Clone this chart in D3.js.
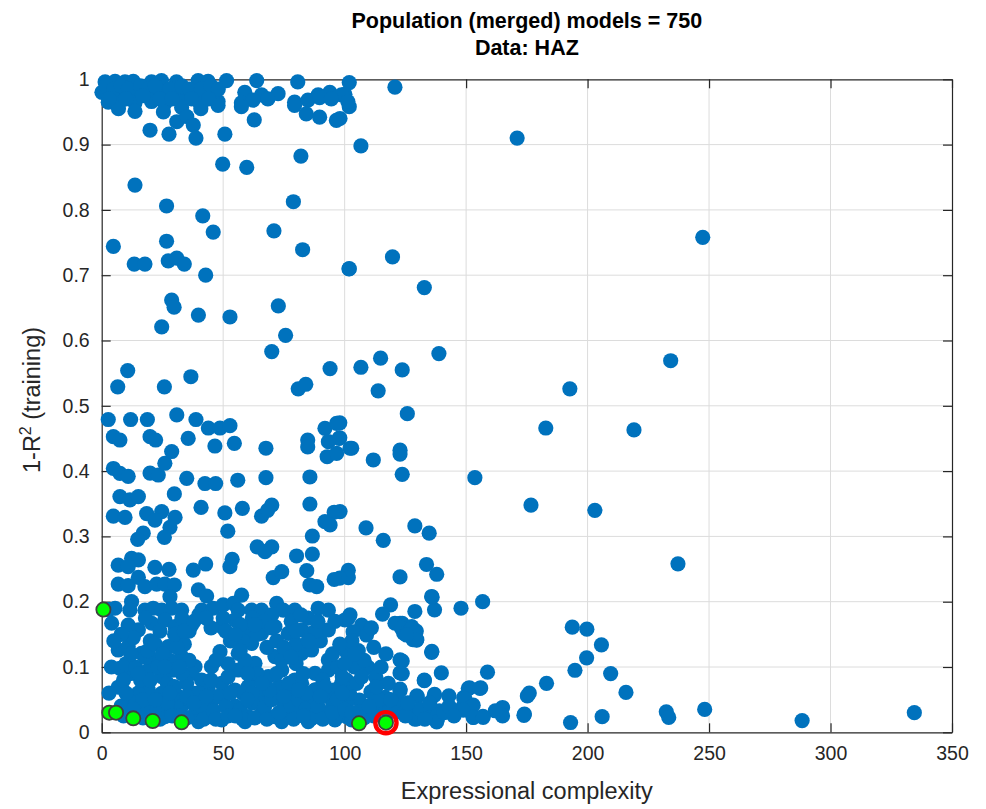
<!DOCTYPE html>
<html>
<head>
    <meta charset="utf-8">
    <title>Population (merged) models</title>
    <script src="https://d3js.org/d3.v7.min.js"></script>
    <style>
        body { margin: 0; background: #fff; }
        text { font-family: "Liberation Sans", Arial, Helvetica, sans-serif; }
    </style>
</head>
<body>
    <div id="my_dataviz"></div>
    <script>
        const titleLines = ["Population (merged) models = 750", "Data: HAZ"];
        const xLabel = "Expressional complexity";
        const xTicks = [0, 50, 100, 150, 200, 250, 300, 350];
        const yTicks = [0, 0.1, 0.2, 0.3, 0.4, 0.5, 0.6, 0.7, 0.8, 0.9, 1];

        // [complexity, 1-R^2]
        const sparseModels = [
            [171,0.91],[247.4,0.758],[234.2,0.569],[192.7,0.526],[182.8,0.466],[219.1,0.463],[138.8,0.58],
            [132.8,0.681],[119.7,0.728],[153.6,0.39],[176.7,0.348],[203,0.34],[237.2,0.258],[156.8,0.2],
            [147.9,0.19],[193.7,0.161],[199.7,0.158],[205.7,0.134],[199.6,0.114],[194.8,0.095],[209.5,0.09],
            [215.8,0.061],[183.1,0.075],[175.2,0.0557],[176,0.06],[158.8,0.092],[248.2,0.035],[232.4,0.0314],
            [233.4,0.0228],[206,0.024],[193,0.015],[288.3,0.018],[334.5,0.03],[174,0.028],[165,0.038],
            [165,0.025],[162,0.033],[156.9,0.0243],[152.9,0.0228],[152.9,0.0415],[148.5,0.038],[149,0.053],
            [151.4,0.068],[156,0.068],[142.9,0.0557],[137,0.058],[139.8,0.091],[135.9,0.124],[132.8,0.08],
            [129.7,0.0557],[122.8,0.066],[122.8,0.091],[122.8,0.111],[129.7,0.142],[127.4,0.16],[122.8,0.167],
            [128.9,0.185],[137,0.1876],[136,0.207],[123.7,0.167],[127.6,0.162],[129.5,0.155],[124.3,0.152],
            [128.1,0.142],[122.8,0.0357],[127.4,0.03],[129.7,0.0204],[135.9,0.03],[138.2,0.0204],[139,0.033],
            [122.8,0.043]
        ];
        const midModels = [
            [101.9,0.995],[120.7,0.988],[100.1,0.977],[101.9,0.958],[98.1,0.94],[106.7,0.898],[101.9,0.71],
            [114.8,0.573],[106.7,0.559],[123.7,0.555],[113.8,0.523],[125.8,0.488],[98,0.474],[98,0.451],
            [102.9,0.435],[122.8,0.432],
            [111.8,0.417],[122.8,0.426],[123.7,0.395],[98.1,0.338],[108.8,0.313],[115.9,0.294],[128.9,0.316],
            [134.8,0.305],[133.7,0.257],[137.9,0.242],[122.8,0.238],[101.5,0.248],[101.5,0.237],[98,0.236],
            [135.8,0.208],[118.9,0.195],[115.6,0.181],[101.5,0.175],[107,0.164],[103.5,0.154],[109,0.149],
            [120.7,0.167],[123.4,0.159],[126.2,0.154],[127.6,0.159],[128.9,0.152],[129.6,0.141],[125.5,0.149],
            [100.8,0.1225],[105.6,0.125],[135.8,0.1225],[123.7,0.109],[123.7,0.09],[109.7,0.0995],[112.9,0.084],
            [100.8,0.08],[132.8,0.079],[122.8,0.0637],[110.8,0.062],[116.6,0.0536],[106,0.0495],[100.8,0.044],
            [98,0.0545],[129.9,0.0545],[136.9,0.0567],[150.9,0.0674],[155.7,0.0674],[149.5,0.052],[152.3,0.039],
            [148.8,0.034],[153,0.023],[157,0.023],[173.8,0.026],[122.8,0.0315],[127.6,0.029],[128.9,0.02],
            [135.1,0.029],[138.5,0.028],[137.9,0.016],[98,0.039],[100.8,0.024],[106.3,0.0315],[110.4,0.0315],
            [115.9,0.039],[111.8,0.044]
        ];
        const topModels = [
            [1.4,0.996],[5.5,0.997],[9.6,0.996],[13,0.997],[20.5,0.996],[24.6,0.998],[30.8,0.996],[39.7,0.998],
            [43.8,0.997],[51.4,0.998],[63.8,0.998],[80.7,0.996],
            [0.1,0.98],[4.1,0.978],[8.2,0.98],[12.3,0.977],[16.4,0.98],[21.2,0.978],[26,0.98],[30.1,0.977],
            [34.2,0.978],[38.4,0.98],[42.5,0.977],[46.6,0.978],[58.9,0.98],[65.8,0.976],[72.6,0.978],[89.1,0.976],
            [93.9,0.98],[98.7,0.976],
            [2.7,0.965],[6.9,0.963],[13.7,0.964],[20.5,0.966],[26,0.963],[32.9,0.965],[40.4,0.964],[47.9,0.966],
            [57.5,0.964],[62.3,0.968],[68.4,0.97],[79.4,0.965],[84.9,0.968],[89.7,0.972],[94.5,0.97],[101.3,0.966],
            [6.9,0.955],[13.7,0.951],[25.4,0.95],[32.9,0.957],[40.8,0.955],[47.9,0.96],[57.5,0.958],[79.4,0.96],
            [84.2,0.947],[89.7,0.942],[96.6,0.937],
            [2,0.99],[5,0.985],[8,0.99],[11,0.985],[16,0.99],[19,0.985],[22,0.99],[28,0.985],[33,0.99],[36,0.985],
            [41,0.985],[45,0.99],[48,0.985],[3,0.97],[10,0.97],[17,0.975],[24,0.97],[29,0.97],[37,0.97],[44,0.97],
            [62.8,0.938],[30.9,0.935],[35,0.943],[37.7,0.93],[19.9,0.922],[27.7,0.916],[38.8,0.91],[50.7,0.916],
            [82,0.8825],[49.8,0.87],[59.7,0.865],[13.7,0.838],[78.9,0.8125],[26.7,0.806],[41.6,0.791],
            [45.9,0.766],[70.9,0.768],[4.8,0.744],[26.7,0.752],[82.7,0.739]
        ];
        const upperLeftModels = [
            [13.4,0.717],[17.8,0.717],[27.4,0.722],[30.9,0.726],[34,0.717],[42.8,0.7],[101.8,0.7095],[28.8,0.662],
            [29.8,0.651],[39.8,0.639],[52.8,0.636],[72.7,0.653],[75.7,0.608],[24.7,0.621],[70,0.583],[94,0.557],
            [10.7,0.554],[6.6,0.529],[25.8,0.529],[36.7,0.5445],[80.9,0.526],[84,0.533],[2.7,0.479],[11.9,0.479],
            [18.8,0.479],[30.9,0.486],[38.8,0.479],[43.9,0.466],[48.7,0.466],[52.8,0.4695],[4.8,0.4527],
            [7.5,0.4476],[19.9,0.4527],[22.2,0.4476],[35.6,0.45],[46.6,0.4384],[54.6,0.4425],[67.6,0.435],
            [91.9,0.4655],[96.7,0.473],[97.7,0.45],[93.3,0.445],[84.8,0.4476],[84.8,0.437],[102.2,0.435],
            [4.8,0.404],[7.5,0.3966],[10.9,0.392],[19.9,0.397],[23.3,0.394],[26,0.412],[28.8,0.43],[35,0.389],
            [42.5,0.381],[46.9,0.381],[56,0.386],[67.6,0.39],[85.7,0.391],[92.8,0.422],[96.7,0.427],[29.9,0.365],
            [7.5,0.361],[11.6,0.356],[15.1,0.361],[4.8,0.331],[9.6,0.329],[18.5,0.335],[24.7,0.338],[21.9,0.325],
            [30.2,0.329],[28.1,0.314],[40.9,0.3446],[50.7,0.336],[57.9,0.343],[65.8,0.331],[70,0.348],[68.3,0.34],
            [85.7,0.3496],[95.7,0.337],[91.9,0.3225],[94,0.3175],[51.9,0.308],[17.1,0.305],[14.8,0.2955],
            [25.8,0.2986],[86.7,0.3006],[64,0.284],[70,0.284],[67.2,0.2766],[80.2,0.27],[86.7,0.273],[12.3,0.2665],
            [6.8,0.256],[15.1,0.264],[10.9,0.2536],[21.9,0.2527],[27.7,0.2496],[37.7,0.2485],[42.8,0.2577],
            [52.8,0.2536],[53.7,0.265],[70.6,0.237],[74.1,0.246],[84.4,0.2475],[95.7,0.234],[6.8,0.227],
            [10.9,0.2245],[15.1,0.2374],[17.8,0.223],[22.6,0.227],[26,0.227],[29.9,0.2256],[39.8,0.218],
            [43.2,0.2087],[85.7,0.2256],[88.5,0.223],[28.1,0.2077],[57.6,0.21]
        ];
        const denseModels = [
            [3,0.188],[5.5,0.19],[12.3,0.2],[11.6,0.187],[17.8,0.187],[21.2,0.19],[24.7,0.187],[28.8,0.19],
            [32.9,0.187],[41.2,0.187],[45.9,0.19],[50,0.195],[54.2,0.1975],[56.2,0.187],[61.7,0.187],[65.8,0.187],
            [72,0.1975],[74.7,0.187],[79.5,0.187],[89.1,0.19],[93.3,0.187],[102.2,0.18],
            [4.1,0.167],[10.9,0.1643],[15.1,0.157],[20.6,0.167],[26,0.172],[30.2,0.1617],[37,0.1643],[49.4,0.1617],
            [54.8,0.172],[60.3,0.157],[65.8,0.1516],[71.3,0.1617],[76.8,0.1516],[82.3,0.157],[86.4,0.1516],
            [93.3,0.157],[100.1,0.172],
            [6.8,0.126],[10.9,0.1312],[16.4,0.121],[21.9,0.1108],[27.4,0.1312],[32.9,0.1159],[38.4,0.1005],
            [48.7,0.1234],[56.2,0.121],[61.7,0.136],[63.1,0.1057],[71.3,0.1159],[76.8,0.126],[82.3,0.121],
            [86.4,0.126],[93.3,0.1108],[101.5,0.1234],
            [7.5,0.098],[12.3,0.0903],[19.2,0.0954],[24.7,0.0852],[37,0.0903],[41.1,0.0801],[45.2,0.1005],
            [49.4,0.075],[56.2,0.0954],[61.7,0.0801],[68.6,0.0852],[74.1,0.0954],[79.5,0.0801],[87.8,0.0903],
            [93.3,0.0954],[98.7,0.075],
            [6.8,0.069],[12.3,0.0546],[19.2,0.0648],[24.7,0.0597],[31.5,0.0546],[38.4,0.0597],[43.9,0.0699],
            [49.4,0.0546],[54.8,0.0648],[60.3,0.0699],[65.8,0.0597],[71.3,0.0546],[76.8,0.0597],[82.3,0.075],
            [87.8,0.0648],[93.3,0.0546],[101.5,0.0648],
            [10.9,0.0444],[16.4,0.0342],[21.9,0.0291],[26,0.024],[30.2,0.0342],[38.4,0.0291],[43.9,0.024],
            [49.4,0.0189],[54.8,0.0291],[60.3,0.024],[65.8,0.0291],[71.3,0.024],[76.8,0.0265],[82.3,0.0291],
            [87.8,0.024],[93.3,0.0291],[98.7,0.0265],[102.9,0.0189],[39.8,0.0164],[59,0.0164],[74.1,0.0164],
            [85,0.0164],[96,0.0189],
            [25,0.05],[35,0.075],[45,0.045],[55,0.04],[65,0.045],[75,0.04],[85,0.045],[95,0.04],[15,0.06],
            [28,0.11],[34,0.135],[45,0.16],[58,0.14],[68,0.13],[80,0.105],[90,0.14],[97,0.1],[52,0.105],
            [40,0.18],[70,0.18],[85,0.175],[20,0.14],[10,0.105],[62,0.175],[33,0.09],[48,0.055],[58,0.06],
            [73,0.07],[88,0.065],[96,0.065],[104,0.1]
        ];
        // extra models packed into the lower-left cloud
        const crowdedModels = [
            [8,0.04],[9,0.025],[14,0.045],[17,0.022],[19,0.04],[23,0.035],[24,0.02],[27,0.045],[29,0.025],
            [33,0.04],[35,0.022],[36,0.05],[41,0.04],[42,0.02],[46,0.033],[47,0.02],[51,0.04],[52,0.025],
            [57,0.035],[58,0.02],[62,0.045],[63,0.022],[67,0.038],[68,0.02],[70,0.05],[73,0.03],[78,0.04],
            [79,0.02],[81,0.05],[84,0.035],[86,0.02],[89,0.04],[91,0.02],[95,0.03],[97,0.05],[100,0.035],
            [103,0.03],[108,0.022],[112,0.025],[114,0.05],[118,0.03],[120,0.045],[125,0.025],[131,0.035],
            [133,0.02],[141,0.03],[143,0.04],[145,0.025],
            [9,0.08],[14,0.1],[16,0.08],[18,0.115],[23,0.1],[27,0.075],[29,0.095],[31,0.13],[36,0.11],
            [30,0.15],[33,0.175],[36,0.155],[24,0.155],[18,0.175],[13,0.145],[8,0.15],[47,0.11],[52,0.085],
            [53,0.14],[50,0.175],[57,0.165],[59,0.11],[64,0.09],[64,0.15],[67,0.17],[72,0.14],[74,0.11],
            [78,0.17],[80,0.135],[83,0.09],[88,0.155],[91,0.08],[95,0.12],[99,0.085],[103,0.14],[102,0.06],
            [45,0.08],[40,0.06],[35,0.055],[30,0.07],[20,0.08],[17,0.05],[62,0.06],[69,0.065],[77,0.075],
            [84,0.06],[92,0.07],[105,0.075],[108,0.11],[112,0.13],[115,0.1],[118,0.075],
            [3,0.06],[4,0.1],[5,0.14],[12,0.12],[15,0.09],[19,0.125],[22,0.135],[25,0.12],[26,0.1],[32,0.1],
            [34,0.155],[38,0.17],[43,0.175],[51,0.155],[55,0.15],[57,0.125],[60,0.09],[63,0.165],[70,0.16],
            [72,0.09],[75,0.13],[78,0.115],[80,0.155],[82,0.18],[85,0.14],[89,0.17],[96,0.17],[98,0.135],
            [100,0.105],[104,0.12],[107,0.085],[111,0.16],[113,0.07],[117,0.12],[119,0.05],[10,0.06],[22,0.05],
            [28,0.06],[38,0.045],[43,0.055],[53,0.06],[60,0.05],[66,0.075],[75,0.055],[81,0.065],[90,0.055],
            [99,0.06],[13,0.035],[32,0.025],[55,0.025],[83,0.025],[110,0.04],[126,0.045],[135,0.045]
        ];
        // green markers (pareto front) and the highlighted one
        const paretoModels = [[0.7,0.188],[3.1,0.03],[5.9,0.03],[13,0.0214],[21,0.0173],[32.9,0.0153],[105.9,0.0138],[117,0.0147]];
        const selectedModel = [117, 0.0147];

        const width = 986, height = 809;
        const margin = {top: 79.3, right: 34, bottom: 76.7, left: 101.7};

        const svg = d3.select("#my_dataviz")
          .append("svg")
            .attr("width", width)
            .attr("height", height);

        const x = d3.scaleLinear().domain([0, 350]).range([margin.left, width - margin.right]);
        const y = d3.scaleLinear().domain([0, 1]).range([height - margin.bottom, margin.top]);

        const axisColor = "#262626";
        const tickLen = 9;

        // grid
        svg.append("g")
          .selectAll("line")
          .data(xTicks.slice(1, -1))
          .join("line")
            .attr("x1", d => x(d)).attr("x2", d => x(d))
            .attr("y1", y(0)).attr("y2", y(1))
            .attr("stroke", "#dcdcdc").attr("stroke-width", 1);
        svg.append("g")
          .selectAll("line")
          .data(yTicks.slice(1, -1))
          .join("line")
            .attr("x1", x(0)).attr("x2", x(350))
            .attr("y1", d => y(d)).attr("y2", d => y(d))
            .attr("stroke", "#dcdcdc").attr("stroke-width", 1);

        // axes, ticks pointing inward like matlab
        const xAxis = svg.append("g")
            .attr("transform", `translate(0,${y(0)})`)
            .call(d3.axisBottom(x).tickValues(xTicks).tickSizeInner(-tickLen).tickSizeOuter(0).tickPadding(13.5));
        const xAxisTop = svg.append("g")
            .attr("transform", `translate(0,${y(1)})`)
            .call(d3.axisTop(x).tickValues(xTicks).tickSizeInner(-tickLen).tickSizeOuter(0).tickFormat(""));
        const yAxis = svg.append("g")
            .attr("transform", `translate(${x(0)},0)`)
            .call(d3.axisLeft(y).tickValues(yTicks).tickSizeInner(-tickLen).tickSizeOuter(0).tickPadding(12)
              .tickFormat(d => d3.format("~g")(d)));
        const yAxisRight = svg.append("g")
            .attr("transform", `translate(${x(350)},0)`)
            .call(d3.axisRight(y).tickValues(yTicks).tickSizeInner(-tickLen).tickSizeOuter(0).tickFormat(""));

        [xAxis, xAxisTop, yAxis, yAxisRight].forEach(g => {
            g.select(".domain").attr("stroke", axisColor).attr("stroke-width", 1.2);
            g.selectAll(".tick line").attr("stroke", axisColor).attr("stroke-width", 1.2);
            g.selectAll(".tick text")
              .attr("fill", axisColor)
              .style("font-size", "19.5px")
              .style("font-family", "'Liberation Sans', Arial, sans-serif");
        });

        // models
        const allModels = [].concat(sparseModels, midModels, topModels, upperLeftModels, denseModels, crowdedModels);
        svg.append("g")
          .selectAll("circle")
          .data(allModels)
          .join("circle")
            .attr("cx", d => x(d[0]))
            .attr("cy", d => y(d[1]))
            .attr("r", 7.6)
            .attr("fill", "#0072BD");

        svg.append("g")
          .selectAll("circle")
          .data(paretoModels)
          .join("circle")
            .attr("cx", d => x(d[0]))
            .attr("cy", d => y(d[1]))
            .attr("r", 7.1)
            .attr("fill", "#00ff00")
            .attr("stroke", "#404040")
            .attr("stroke-width", 1.8);

        svg.append("circle")
            .attr("cx", x(selectedModel[0]))
            .attr("cy", y(selectedModel[1]))
            .attr("r", 10.6)
            .attr("fill", "none")
            .attr("stroke", "#ff0000")
            .attr("stroke-width", 4.4);

        // titles
        const midX = (x(0) + x(350)) / 2;
        svg.append("text")
            .attr("x", midX).attr("y", 27.5)
            .attr("text-anchor", "middle")
            .style("font-size", "21.5px").style("font-weight", "bold")
            .text(titleLines[0]);
        svg.append("text")
            .attr("x", midX).attr("y", 54.5)
            .attr("text-anchor", "middle")
            .style("font-size", "21.5px").style("font-weight", "bold")
            .text(titleLines[1]);

        svg.append("text")
            .attr("x", midX).attr("y", 799)
            .attr("text-anchor", "middle")
            .attr("fill", axisColor)
            .style("font-size", "23.5px")
            .text(xLabel);

        const yl = svg.append("text")
            .attr("transform", `translate(40,400) rotate(-90)`)
            .attr("text-anchor", "middle")
            .attr("fill", axisColor)
            .style("font-size", "23.5px");
        yl.append("tspan").text("1-R");
        yl.append("tspan").attr("dy", -9).style("font-size", "16px").text("2");
        yl.append("tspan").attr("dy", 9).text(" (training)");
    </script>
</body>
</html>
